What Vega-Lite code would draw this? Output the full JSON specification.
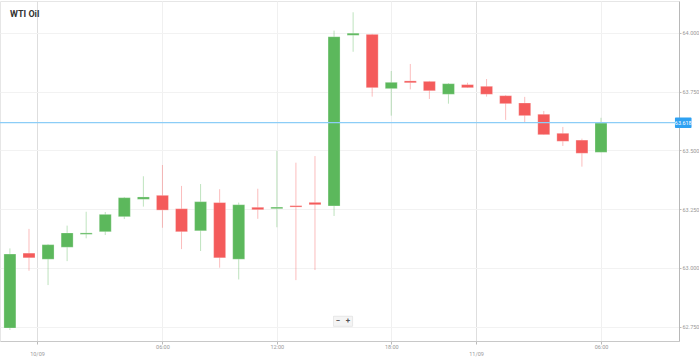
{
  "$schema": "https://vega.github.io/schema/vega-lite/v6.json",
  "width": 679,
  "height": 340,
  "autosize": "none",
  "padding": {"left": 0, "top": 1, "right": 20, "bottom": 19},
  "background": "#ffffff",
  "title": {"text": "WTI Oil", "anchor": "start", "frame": "group", "offset": -18, "dx": 10, "fontSize": 9, "font": "Roboto", "fontWeight": "bold", "color": "#333333"},
  "config": {"view": {"stroke": "#e6e6e6"}},
  "data": {"values": [
    {"i": 0, "open": 62.744, "high": 63.083, "low": 62.736, "close": 63.059},
    {"i": 1, "open": 63.063, "high": 63.166, "low": 62.988, "close": 63.043},
    {"i": 2, "open": 63.037, "high": 63.102, "low": 62.927, "close": 63.099},
    {"i": 3, "open": 63.088, "high": 63.180, "low": 63.029, "close": 63.149},
    {"i": 4, "open": 63.143, "high": 63.239, "low": 63.126, "close": 63.149},
    {"i": 5, "open": 63.154, "high": 63.238, "low": 63.140, "close": 63.228},
    {"i": 6, "open": 63.218, "high": 63.302, "low": 63.208, "close": 63.299},
    {"i": 7, "open": 63.292, "high": 63.390, "low": 63.261, "close": 63.302},
    {"i": 8, "open": 63.309, "high": 63.438, "low": 63.171, "close": 63.246},
    {"i": 9, "open": 63.252, "high": 63.349, "low": 63.080, "close": 63.154},
    {"i": 10, "open": 63.158, "high": 63.357, "low": 63.072, "close": 63.282},
    {"i": 11, "open": 63.278, "high": 63.335, "low": 63.001, "close": 63.043},
    {"i": 12, "open": 63.037, "high": 63.278, "low": 62.951, "close": 63.269},
    {"i": 13, "open": 63.258, "high": 63.337, "low": 63.209, "close": 63.248},
    {"i": 14, "open": 63.252, "high": 63.498, "low": 63.173, "close": 63.259},
    {"i": 15, "open": 63.265, "high": 63.448, "low": 62.948, "close": 63.259},
    {"i": 16, "open": 63.279, "high": 63.476, "low": 62.991, "close": 63.269},
    {"i": 17, "open": 63.264, "high": 64.010, "low": 63.221, "close": 63.984},
    {"i": 18, "open": 63.990, "high": 64.088, "low": 63.920, "close": 63.999},
    {"i": 19, "open": 63.994, "high": 63.996, "low": 63.729, "close": 63.767},
    {"i": 20, "open": 63.763, "high": 63.838, "low": 63.648, "close": 63.790},
    {"i": 21, "open": 63.796, "high": 63.868, "low": 63.760, "close": 63.788},
    {"i": 22, "open": 63.794, "high": 63.796, "low": 63.719, "close": 63.754},
    {"i": 23, "open": 63.739, "high": 63.787, "low": 63.699, "close": 63.784},
    {"i": 24, "open": 63.780, "high": 63.788, "low": 63.766, "close": 63.767},
    {"i": 25, "open": 63.773, "high": 63.804, "low": 63.729, "close": 63.739},
    {"i": 26, "open": 63.733, "high": 63.736, "low": 63.630, "close": 63.699},
    {"i": 27, "open": 63.702, "high": 63.728, "low": 63.618, "close": 63.648},
    {"i": 28, "open": 63.654, "high": 63.668, "low": 63.566, "close": 63.567},
    {"i": 29, "open": 63.573, "high": 63.600, "low": 63.519, "close": 63.539},
    {"i": 30, "open": 63.544, "high": 63.550, "low": 63.431, "close": 63.488},
    {"i": 31, "open": 63.492, "high": 63.639, "low": 63.492, "close": 63.617}
  ]},
  "layer": [
    {
      "mark": {"type": "rule", "strokeWidth": 1, "opacity": 0.4},
      "encoding": {
        "x": {
          "field": "i", "type": "quantitative",
          "scale": {"domain": [-0.258, 34.83], "nice": false, "zero": false},
          "axis": {
            "title": null,
            "values": [1.42, 8, 14, 20, 24.45, 31],
            "labelExpr": "datum.value < 2 ? ['', '10/09'] : (datum.value > 24 && datum.value < 25) ? ['', '11/09'] : (datum.value == 14 ? '12:00' : datum.value == 20 ? '18:00' : '06:00')",
            "labelFont": "Roboto", "labelFontSize": 5.5, "labelColor": "#999999", "labelPadding": 0, "labelLineHeight": 7,
            "domainColor": "#c8c8c8", "tickColor": "#bbbbbb", "tickSize": 3,
            "grid": true,
            "gridColor": {"condition": {"test": "datum.value < 2 || (datum.value > 24 && datum.value < 25)", "value": "#dedede"}, "value": "#f0f0f0"}
          }
        },
        "y": {
          "field": "low", "type": "quantitative",
          "scale": {"domain": [62.689, 64.136], "nice": false, "zero": false},
          "axis": {
            "title": null, "orient": "right",
            "values": [62.75, 63, 63.25, 63.5, 63.75, 64], "format": ".3f",
            "labelFont": "Roboto", "labelFontSize": 5.5, "labelColor": "#999999", "labelPadding": 1,
            "domainColor": "#b8b8b8", "tickColor": "#bbbbbb", "tickSize": 2,
            "grid": true, "gridColor": "#f2f2f2"
          }
        },
        "y2": {"field": "high"},
        "color": {"condition": {"test": "datum.close >= datum.open", "value": "#5cb85c"}, "value": "#f45b5b"}
      }
    },
    {
      "mark": {"type": "bar", "size": 12, "stroke": "#ffffff", "strokeOpacity": 0.35, "strokeWidth": 0.8},
      "encoding": {
        "x": {"field": "i", "type": "quantitative"},
        "y": {"field": "open", "type": "quantitative"},
        "y2": {"field": "close"},
        "color": {"condition": {"test": "datum.close >= datum.open", "value": "#5cb85c"}, "value": "#f45b5b"}
      }
    },
    {
      "data": {"values": [{"price": 63.618}]},
      "mark": {"type": "rule", "color": "#8ccdf7", "strokeWidth": 1.3},
      "encoding": {"y": {"field": "price", "type": "quantitative"}}
    },
    {
      "data": {"values": [{"price": 63.618}]},
      "mark": {"type": "rect", "color": "#2ea1f2", "clip": false, "cornerRadius": 1},
      "encoding": {
        "x": {"datum": 34.88, "type": "quantitative"},
        "x2": {"datum": 35.75},
        "y": {"datum": 63.64, "type": "quantitative"},
        "y2": {"datum": 63.596}
      }
    },
    {
      "data": {"values": [{"price": 63.618}]},
      "mark": {"type": "text", "color": "#ffffff", "fontSize": 5.5, "font": "Roboto", "clip": false},
      "encoding": {
        "x": {"datum": 35.315, "type": "quantitative"},
        "y": {"field": "price", "type": "quantitative"},
        "text": {"field": "price", "type": "quantitative", "format": ".3f"}
      }
    },
    {
      "data": {"values": [{"b": "−"}, {"b": "+"}]},
      "mark": {"type": "rect", "color": "#f4f4f4", "stroke": "#e2e2e2", "strokeWidth": 0.6},
      "encoding": {
        "x": {"datum": 16.97, "type": "quantitative"},
        "x2": {"datum": 17.97},
        "y": {"datum": 62.794, "type": "quantitative"},
        "y2": {"datum": 62.752}
      }
    },
    {
      "data": {"values": [{"b": "−", "p": 17.2}, {"b": "+", "p": 17.73}]},
      "mark": {"type": "text", "color": "#555555", "fontSize": 8, "font": "Roboto", "fontWeight": "bold"},
      "encoding": {
        "x": {"field": "p", "type": "quantitative"},
        "y": {"datum": 62.773, "type": "quantitative"},
        "text": {"field": "b"}
      }
    }
  ]
}
